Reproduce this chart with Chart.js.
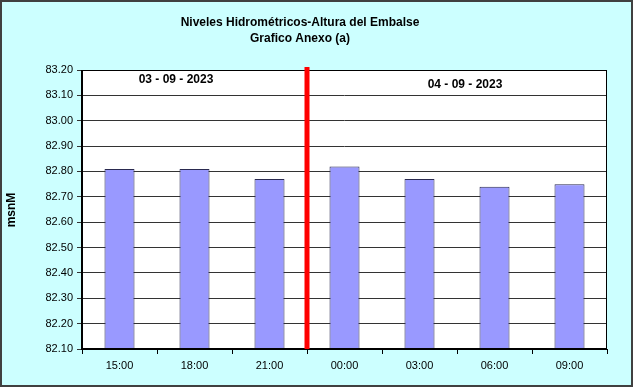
<!DOCTYPE html>
<html>
<head>
<meta charset="utf-8">
<script src="https://cdn.jsdelivr.net/npm/chart.js"></script>
<style>
  html, body { margin: 0; padding: 0; background: #CCFFFF; }
  #wrap { width: 633px; height: 387px; position: relative; }
</style>
</head>
<body>
<div id="wrap"><canvas id="chart" width="633" height="387"></canvas></div>
<script>
// chart data
const horas = ['15:00', '18:00', '21:00', '00:00', '03:00', '06:00', '09:00'];
const niveles = [82.81, 82.81, 82.77, 82.82, 82.77, 82.74, 82.75];
const yTicks = [82.10, 82.20, 82.30, 82.40, 82.50, 82.60, 82.70, 82.80, 82.90, 83.00, 83.10, 83.20];
const titulo = ['Niveles Hidrométricos-Altura del Embalse', 'Grafico Anexo (a)'];
const fechas = ['03 - 09 - 2023', '04 - 09 - 2023'];

const FONT = 'Liberation Sans, Arial, sans-serif';

// background, frame, titles, red day separator
const decor = {
  id: 'decor',
  beforeDraw(chart) {
    const ctx = chart.ctx, a = chart.chartArea;
    ctx.save();
    ctx.fillStyle = '#CCFFFF';
    ctx.fillRect(0, 0, chart.width, chart.height);
    ctx.strokeStyle = '#404040';
    ctx.lineWidth = 2;
    ctx.strokeRect(1, 1, chart.width - 2, chart.height - 2);
    ctx.fillStyle = '#FFFFFF';
    ctx.fillRect(a.left, a.top, a.right - a.left, a.bottom - a.top);
    ctx.restore();
  },
  afterDraw(chart) {
    const ctx = chart.ctx, a = chart.chartArea;
    const x = chart.scales.x;
    ctx.save();
    // plot border
    ctx.strokeStyle = '#000';
    ctx.lineWidth = 1;
    ctx.strokeRect(a.left + 0.5, a.top + 0.5, a.right - a.left - 1, a.bottom - a.top - 1);
    ctx.lineWidth = 2;
    ctx.beginPath();
    ctx.moveTo(a.left, a.top);
    ctx.lineTo(a.left, a.bottom);
    ctx.lineTo(a.right, a.bottom);
    ctx.stroke();
    // titles
    ctx.fillStyle = '#000';
    ctx.textAlign = 'center';
    ctx.textBaseline = 'middle';
    ctx.font = 'bold 12px ' + FONT;
    ctx.fillText(titulo[0], 300, 23);
    ctx.fillText(titulo[1], 300, 39);
    // y title
    ctx.save();
    ctx.translate(12, 210);
    ctx.rotate(-Math.PI / 2);
    ctx.fillText('msnM', 0, 0);
    ctx.restore();
    // dates
    ctx.fillText(fechas[0], 176, 80);
    ctx.fillText(fechas[1], 465, 85);
    // red separator between 21:00 and 00:00
    const sx = (x.getPixelForValue(2) + x.getPixelForValue(3)) / 2;
    ctx.strokeStyle = '#FF0000';
    ctx.lineWidth = 5;
    ctx.beginPath();
    ctx.moveTo(sx, a.top - 3);
    ctx.lineTo(sx, a.bottom);
    ctx.stroke();
    ctx.restore();
  }
};

new Chart(document.getElementById('chart'), {
  type: 'bar',
  data: {
    labels: horas,
    datasets: [{
      data: niveles,
      backgroundColor: '#9999FF',
      borderColor: '#2A2A50',
      borderWidth: 1,
      borderSkipped: false,
      barPercentage: 0.4,
      categoryPercentage: 1.0
    }]
  },
  options: {
    responsive: false,
    animation: false,
    layout: { padding: { left: 0, right: 26, top: 70, bottom: 0 } },
    plugins: {
      legend: { display: false },
      title: { display: false },
      tooltip: { enabled: false }
    },
    scales: {
      x: {
        afterFit(s) { s.height = 38; },
        grid: {
          offset: true,
          drawOnChartArea: false,
          drawTicks: true,
          tickLength: 5,
          color: '#000'
        },
        border: { display: false },
        ticks: {
          color: '#000',
          font: { family: FONT, size: 11 },
          padding: 5
        }
      },
      y: {
        min: 82.1,
        max: 83.2,
        afterFit(s) { s.width = 82; },
        afterBuildTicks(s) { s.ticks = yTicks.map(v => ({ value: v })); },
        grid: {
          color: '#333333',
          lineWidth: 1,
          drawTicks: true,
          tickLength: 5
        },
        border: { display: false },
        ticks: {
          color: '#000',
          font: { family: FONT, size: 11 },
          padding: 4,
          callback: v => Number(v).toFixed(2)
        }
      }
    }
  },
  plugins: [decor]
});
</script>
</body>
</html>
